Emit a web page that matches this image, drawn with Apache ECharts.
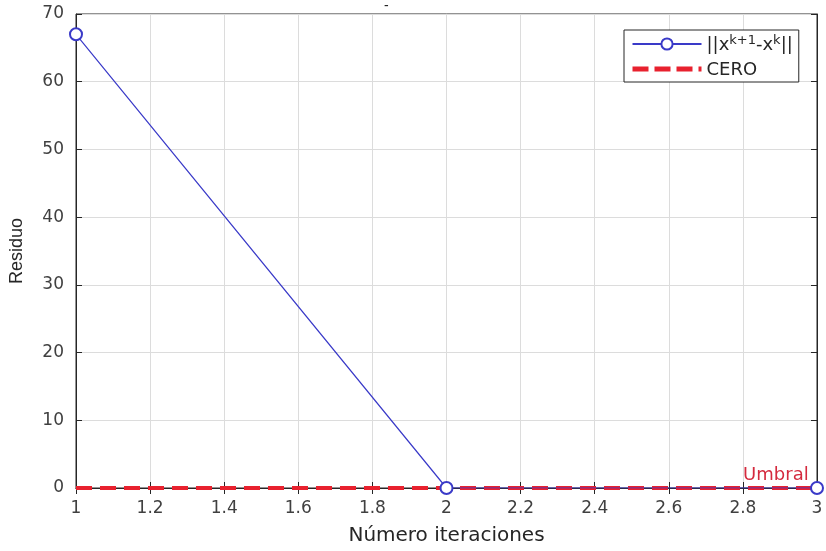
<!DOCTYPE html>
<html>
<head>
<meta charset="utf-8">
<script src="https://cdn.jsdelivr.net/npm/echarts@6/dist/echarts.min.js"></script>
<style>html,body{margin:0;padding:0;background:#fff;}#c{width:826px;height:551px;}</style>
</head>
<body>
<div id="c"></div>
<script>
const iterations = [1, 2, 3];
const residuals = [67.0, 0, 0];
const zeroLine = [0, 0, 0];
const seriesNames = ['res', 'CERO'];
const umbralLabel = 'Umbral';
const umbralPos = [2.889, 0];

const chart = echarts.init(document.getElementById('c'));
const txt = '#262626';
const lab = '#404040';
const F = 'DejaVu Sans';
const xBase = { type: 'value', min: 1, max: 3, interval: 0.2 };
const yBase = { type: 'value', min: 0, max: 70, interval: 10 };
chart.setOption({
  animation: false,
  title: { text: '-', left: 379, top: -6, textStyle: { fontSize: 14, color: txt, fontWeight: 'normal' } },
  grid: { left: 76, top: 14, right: 9, bottom: 63, containLabel: false, outerBoundsMode: 'none', show: true, borderColor: txt, borderWidth: 1, backgroundColor: '#fff' },
  xAxis: [Object.assign({}, xBase, {
    name: 'Número iteraciones', nameLocation: 'middle', nameGap: 38,
    nameTextStyle: { fontFamily: F, fontSize: 20, color: txt },
    axisLine: { lineStyle: { color: txt } },
    axisTick: { inside: true, length: 6, lineStyle: { color: txt } },
    axisLabel: { fontFamily: F, fontSize: 17, color: lab, margin: 12, formatter: v => String(Math.round(v * 10) / 10) },
    splitLine: { show: true, lineStyle: { color: '#dcdcdc' } }
  }), Object.assign({}, xBase, {
    position: 'top',
    axisLine: { lineStyle: { color: txt } },
    axisTick: { inside: true, length: 6, lineStyle: { color: txt } },
    axisLabel: { show: false }, splitLine: { show: false }
  })],
  yAxis: [Object.assign({}, yBase, {
    name: 'Residuo', nameLocation: 'middle', nameGap: 50,
    nameTextStyle: { fontFamily: 'Liberation Sans', fontSize: 18, color: txt },
    axisLine: { show: true, lineStyle: { color: txt } },
    axisTick: { show: true, inside: true, length: 6, lineStyle: { color: txt } },
    axisLabel: { fontFamily: F, fontSize: 17, color: lab, margin: 12 },
    splitLine: { show: true, lineStyle: { color: '#dcdcdc' } }
  }), Object.assign({}, yBase, {
    position: 'right',
    axisLine: { show: true, lineStyle: { color: txt } },
    axisTick: { show: true, inside: true, length: 6, lineStyle: { color: txt } },
    axisLabel: { show: false }, splitLine: { show: false }
  })],
  legend: {
    orient: 'vertical', left: 624, top: 30,
    backgroundColor: '#fff', borderColor: txt, borderWidth: 1, borderRadius: 0,
    padding: [4, 6, 3, 6], itemGap: 6, itemWidth: 69, itemHeight: 14,
    data: [seriesNames[0], { name: seriesNames[1], itemStyle: { opacity: 0 }, lineStyle: { width: 5, type: [16, 6] } }],
    formatter: function (n) {
      if (n === 'res') return '{t|||x}{s|k+1}{t|-x}{s|k}{t|||}';
      return '{t|' + n + '}';
    },
    textStyle: {
      color: txt, fontFamily: F, fontSize: 18,
      rich: {
        t: { fontFamily: F, fontSize: 18, color: txt, verticalAlign: 'bottom', lineHeight: 20 },
        s: { fontFamily: F, fontSize: 13, color: txt, verticalAlign: 'top', lineHeight: 12, padding: [0, 0, 8, 0] }
      }
    }
  },
  series: [
    {
      name: seriesNames[0], type: 'line',
      data: iterations.map((x, i) => [x, residuals[i]]),
      symbol: 'emptyCircle', symbolSize: 12, showAllSymbol: true,
      lineStyle: { color: '#3a3ac8', width: 1.2 },
      itemStyle: { color: '#3a3ac8', borderWidth: 1.5 },
      z: 3
    },
    {
      name: seriesNames[1], type: 'line',
      data: iterations.map((x, i) => [x, zeroLine[i]]),
      symbol: 'none',
      lineStyle: { color: '#e8212e', width: 4, type: [16, 8] },
      itemStyle: { color: '#e8212e' },
      z: 2,
      markPoint: {
        symbol: 'circle', symbolSize: 0,
        data: [{ coord: umbralPos, value: umbralLabel }],
        label: { show: true, position: 'top', distance: 4, formatter: umbralLabel, color: '#d42a3e', fontFamily: F, fontSize: 18 }
      }
    }
  ]
});
</script>
</body>
</html>
